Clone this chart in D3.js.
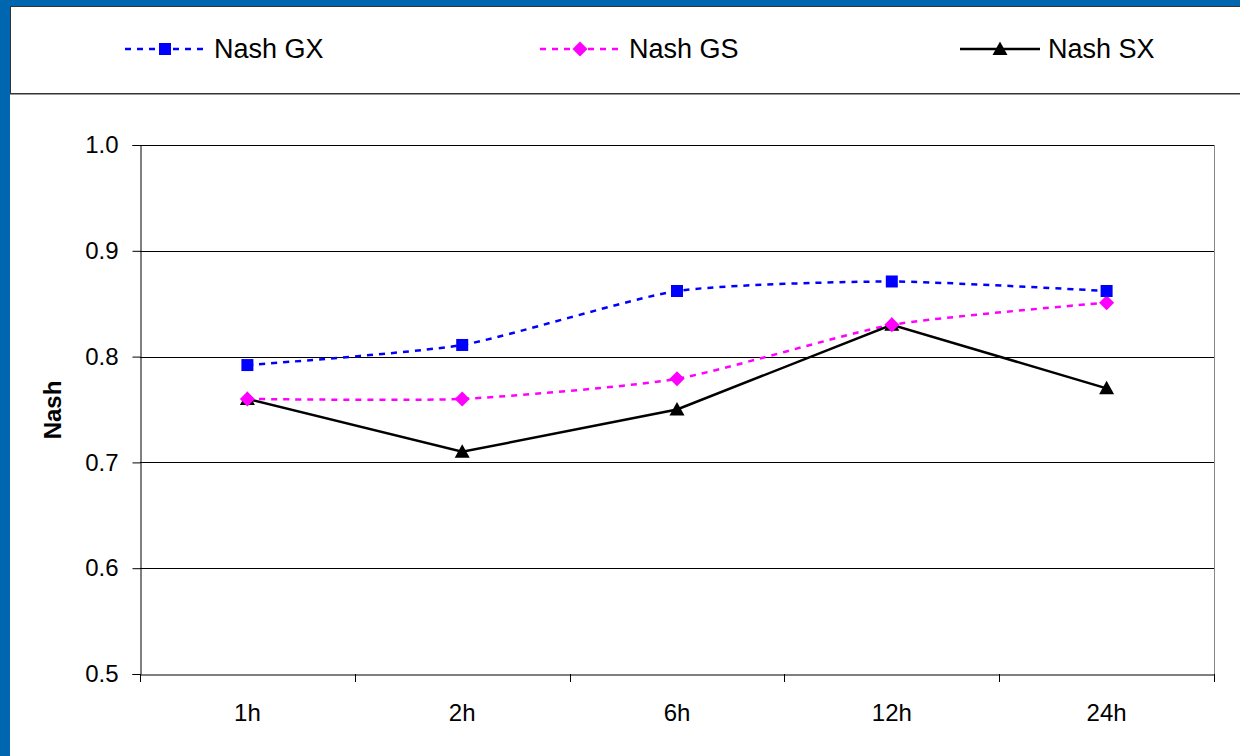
<!DOCTYPE html>
<html><head><meta charset="utf-8">
<script src="https://cdn.jsdelivr.net/npm/d3@7"></script>
<style>body{margin:0;background:#fff;}svg{display:block;font-family:"Liberation Sans",Arial,sans-serif;}</style>
</head><body>
<svg id="c" width="1240" height="756"></svg>
<script>
const categories = ["1h","2h","6h","12h","24h"];
const nashGX = [0.792,0.811,0.862,0.871,0.862];
const nashGS = [0.76,0.76,0.779,0.83,0.851];
const nashSX = [0.76,0.71,0.75,0.83,0.77];
const yTicks = [0.5,0.6,0.7,0.8,0.9,1.0];
const seriesNames = ["Nash GX","Nash GS","Nash SX"];

const svg = d3.select("#c");
// blue frame
svg.append("rect").attr("x",0).attr("y",0).attr("width",1240).attr("height",756).attr("fill","#0066B0");
svg.append("rect").attr("x",10).attr("y",6).attr("width",1240).attr("height",760).attr("fill","#fff");
// legend box
svg.append("rect").attr("x",10.5).attr("y",6.5).attr("width",1240).attr("height",87).attr("fill","#fff").attr("stroke","#333").attr("stroke-width",1);
svg.append("line").attr("x1",10).attr("x2",1240).attr("y1",94.5).attr("y2",94.5).attr("stroke","#999").attr("stroke-width",1);

const L=140,R=1214,T=145,B=674;
const x = d3.scaleBand().domain(categories).range([L,R]);
const y = d3.scaleLinear().domain([0.5,1.0]).range([B,T]);

// gridlines
const g = svg.append("g");
g.selectAll("line.grid").data(yTicks.slice(1)).join("line")
 .attr("x1",L).attr("x2",R).attr("y1",d=>Math.round(y(d))+0.5).attr("y2",d=>Math.round(y(d))+0.5)
 .attr("stroke","#000").attr("stroke-width",1);
// plot border right
svg.append("line").attr("x1",R+0.5).attr("x2",R+0.5).attr("y1",T).attr("y2",B+8).attr("stroke","#888");

// y axis
const yAxis = d3.axisLeft(y).tickValues(yTicks).tickFormat(d3.format(".1f")).tickSize(8).tickPadding(14);
const ya = svg.append("g").attr("transform",`translate(${L+0.5},0)`).call(yAxis);
ya.attr("font-size",24).attr("font-family","Liberation Sans, Arial, sans-serif");
ya.select(".domain").attr("stroke","#000");
ya.selectAll(".tick line").attr("stroke","#000");
ya.selectAll("text").style("font-size","24px").attr("fill","#000");

// x axis
const xAxis = d3.axisBottom(x).tickSize(0).tickPadding(29);
const xa = svg.append("g").attr("transform",`translate(0,${B+0.5})`).call(xAxis);
xa.attr("font-size",24).attr("font-family","Liberation Sans, Arial, sans-serif");
xa.select(".domain").attr("stroke","#000");
xa.selectAll("text").style("font-size","24px").attr("fill","#000");
// category boundary ticks
const bounds = categories.map(c=>x(c)).concat([R]);
svg.append("g").selectAll("line").data(bounds).join("line")
 .attr("x1",d=>Math.round(d)+0.5).attr("x2",d=>Math.round(d)+0.5).attr("y1",B).attr("y2",B+8).attr("stroke","#000");

// y label
svg.append("text").attr("transform","translate(61,410) rotate(-90)").attr("text-anchor","middle")
 .style("font-size","24px").attr("font-weight","bold").text("Nash");

const cx = c => x(c)+x.bandwidth()/2;
const smooth = d3.line().x((d,i)=>cx(categories[i])).y(d=>y(d)).curve(d3.curveCardinal.tension(0.4));
const straight = d3.line().x((d,i)=>cx(categories[i])).y(d=>y(d));

const series = [
 {name:seriesNames[0], vals:nashGX, color:"#0000FF", dash:"6,6", smooth:true, marker:"square"},
 {name:seriesNames[1], vals:nashGS, color:"#FF00FF", dash:"6,6", smooth:true, marker:"diamond"},
 {name:seriesNames[2], vals:nashSX, color:"#000000", dash:null, smooth:false, marker:"triangle"}
];
function markerPath(type){
  if(type==="square") return "M-6,-6H6V6H-6Z";
  if(type==="diamond") return "M0,-7.5L7.5,0L0,7.5L-7.5,0Z";
  return "M0,-7.5L7.5,6L-7.5,6Z";
}

series.forEach(s=>{
  svg.append("path").attr("d",(s.smooth?smooth:straight)(s.vals)).attr("fill","none")
   .attr("stroke",s.color).attr("stroke-width",2.5).attr("stroke-dasharray",s.dash);
});
series.slice().reverse().forEach(s=>{
  svg.append("g").selectAll("path").data(s.vals).join("path")
   .attr("transform",(d,i)=>`translate(${cx(categories[i])},${y(d)})`)
   .attr("d",markerPath(s.marker)).attr("fill",s.color);
});

// legend
const legX = [125,540,960];
const legTextX = [214,629,1048];
series.forEach((s,i)=>{
  const lg = svg.append("g");
  lg.append("line").attr("x1",legX[i]).attr("x2",legX[i]+80).attr("y1",49).attr("y2",49)
    .attr("stroke",s.color).attr("stroke-width",2.5).attr("stroke-dasharray",s.dash);
  lg.append("path").attr("transform",`translate(${legX[i]+40},49)`)
    .attr("d",markerPath(s.marker)).attr("fill",s.color);
  lg.append("text").attr("x",legTextX[i]).attr("y",58).style("font-size","27px").text(s.name);
});
</script>
</body></html>
